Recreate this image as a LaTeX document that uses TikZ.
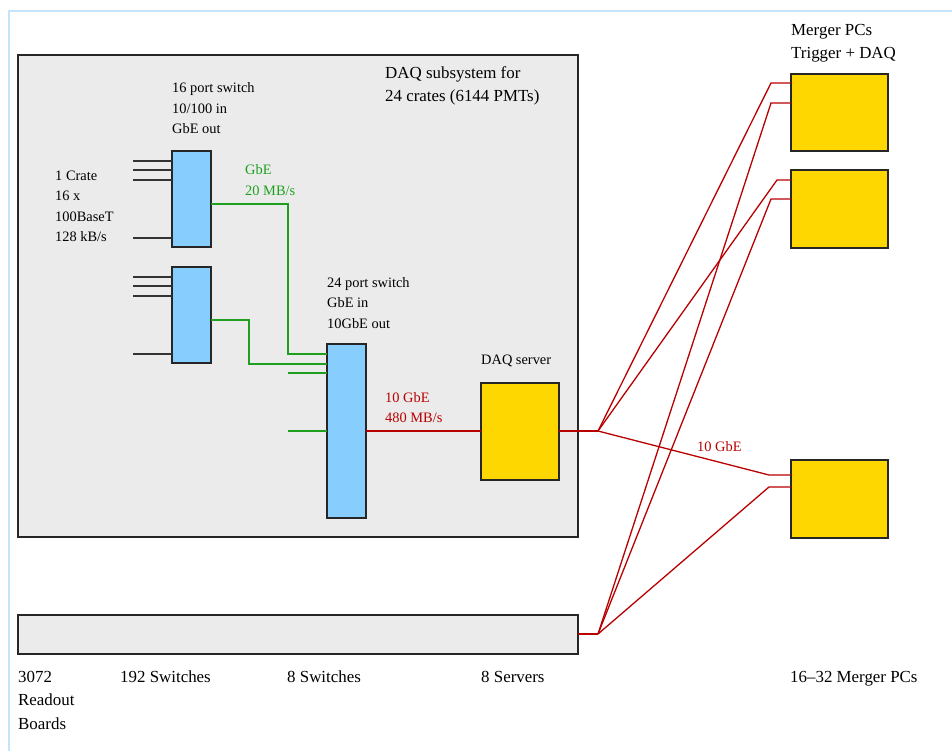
\documentclass[tikz,border=0pt]{standalone}
\usepackage{fontspec}
\setmainfont{Liberation Serif}
\definecolor{frameblue}{RGB}{197,228,250}
\definecolor{boxgrey}{RGB}{235,235,235}
\definecolor{swblue}{RGB}{135,206,255}
\definecolor{srvgold}{RGB}{255,215,0}
\definecolor{lgreen}{RGB}{30,160,30}
\definecolor{lred}{RGB}{185,0,0}
\tikzset{
  box/.style={draw=black!85, line width=1.3pt, inner sep=0pt, outer sep=0pt, anchor=north west},
  swbox/.style={box, fill=swblue, minimum width=39pt},
  goldbox/.style={box, fill=srvgold},
  greybox/.style={box, fill=boxgrey},
  small/.style={font=\fontsize{14.4}{20.5}\selectfont, align=left, inner sep=0pt, anchor=base west},
  big/.style={font=\fontsize{16.9}{23.5}\selectfont, align=left, inner sep=0pt, anchor=base west},
  blackwire/.style={draw=black!80, line width=1.3pt},
  greenwire/.style={draw=lgreen, line width=1.4pt},
  redwire/.style={draw=lred, line width=1.3pt},
}
\begin{document}
\begin{tikzpicture}[x=1pt, y=-1pt]
\useasboundingbox (0,0) rectangle (952,751);
\fill[white] (0,0) rectangle (952,751);
\draw[frameblue, line width=2pt] (9,751) -- (9,11) -- (952,11);

% big boxes
\node[greybox, minimum width=560pt, minimum height=482pt] (sys) at (18,55) {};
\node[greybox, minimum width=560pt, minimum height=39pt] (rest) at (18,615) {};

% coordinates
\coordinate (i1a) at (133,161);
\coordinate (i1b) at (133,170);
\coordinate (i1c) at (133,180);
\coordinate (i1d) at (133,238);
\coordinate (i2a) at (133,277);
\coordinate (i2b) at (133,286);
\coordinate (i2c) at (133,296);
\coordinate (i2d) at (133,354);
\coordinate (g1) at (288,204);
\coordinate (g1b) at (288,354);
\coordinate (g2) at (249,320);
\coordinate (g2b) at (249,364);
\coordinate (g3) at (288,373);
\coordinate (g4) at (288,431);
\coordinate (sA) at (598,431);
\coordinate (sB) at (598,634);
\coordinate (k1) at (771,83);
\coordinate (k2) at (777,180);
\coordinate (k3) at (769,475);
\coordinate (k4) at (771,103);
\coordinate (k5) at (771,199);
\coordinate (k6) at (769,487);

% switches and servers
\node[swbox, minimum height=96pt] (sw1) at (172,151) {};
\node[swbox, minimum height=96pt] (sw2) at (172,267) {};
\node[swbox, minimum height=174pt] (sw3) at (327,344) {};
\node[goldbox, minimum width=78pt, minimum height=97pt] (srv) at (481,383) {};
\node[goldbox, minimum width=97pt, minimum height=77pt] (m1) at (791,74) {};
\node[goldbox, minimum width=97pt, minimum height=78pt] (m2) at (791,170) {};
\node[goldbox, minimum width=97pt, minimum height=78pt] (m3) at (791,460) {};

% black inputs
\foreach \c in {i1a,i1b,i1c,i1d} \draw[blackwire] (\c) -- (sw1.west |- \c);
\foreach \c in {i2a,i2b,i2c,i2d} \draw[blackwire] (\c) -- (sw2.west |- \c);

% green links
\draw[greenwire] (sw1.east |- g1) -- (g1) -- (g1b) -- (sw3.west |- g1b);
\draw[greenwire] (sw2.east |- g2) -- (g2) -- (g2b) -- (sw3.west |- g2b);
\draw[greenwire] (g3) -- (sw3.west |- g3);
\draw[greenwire] (g4) -- (sw3.west |- g4);

% red links
\draw[redwire] (sw3.east |- g4) -- (srv.west |- g4);
\draw[redwire] (srv.east |- sA) -- (sA);
\draw[redwire] (rest.east |- sB) -- (sB);
\draw[redwire] (sA) -- (k1) -- (m1.west |- k1);
\draw[redwire] (sA) -- (k2) -- (m2.west |- k2);
\draw[redwire] (sA) -- (k3) -- (m3.west |- k3);
\draw[redwire] (sB) -- (k4) -- (m1.west |- k4);
\draw[redwire] (sB) -- (k5) -- (m2.west |- k5);
\draw[redwire] (sB) -- (k6) -- (m3.west |- k6);

% labels (anchor = baseline of last line)
\node[big] (tsys) at (385,102) {DAQ subsystem for\\24 crates (6144 PMTs)};
\node[small] (tsw16) at (172,134) {16 port switch\\10/100 in\\GbE out};
\node[small] (tcrate) at (55,242) {1 Crate\\16 x\\100BaseT\\128 kB/s};
\node[small, text=lgreen] (tgbe) at (245,195.5) {GbE\\20 MB/s};
\node[small] (tsw24) at (327,328) {24 port switch\\GbE in\\10GbE out};
\node[small] (tsrv) at (481,364) {DAQ server};
\node[small, text=lred] (t10a) at (385,422.5) {10 GbE\\480 MB/s};
\node[small, text=lred] (t10b) at (697,451) {10 GbE};
\node[big] (tmerge) at (791,59) {Merger PCs\\Trigger + DAQ};
\node[big] (tboards) at (18,729) {3072\\Readout\\Boards};
\node[big] (t192) at (120,682) {192 Switches};
\node[big] (t8sw) at (287,682) {8 Switches};
\node[big] (t8srv) at (481,682) {8 Servers};
\node[big] (tmpc) at (790,682) {16--32 Merger PCs};
\end{tikzpicture}
\end{document}
